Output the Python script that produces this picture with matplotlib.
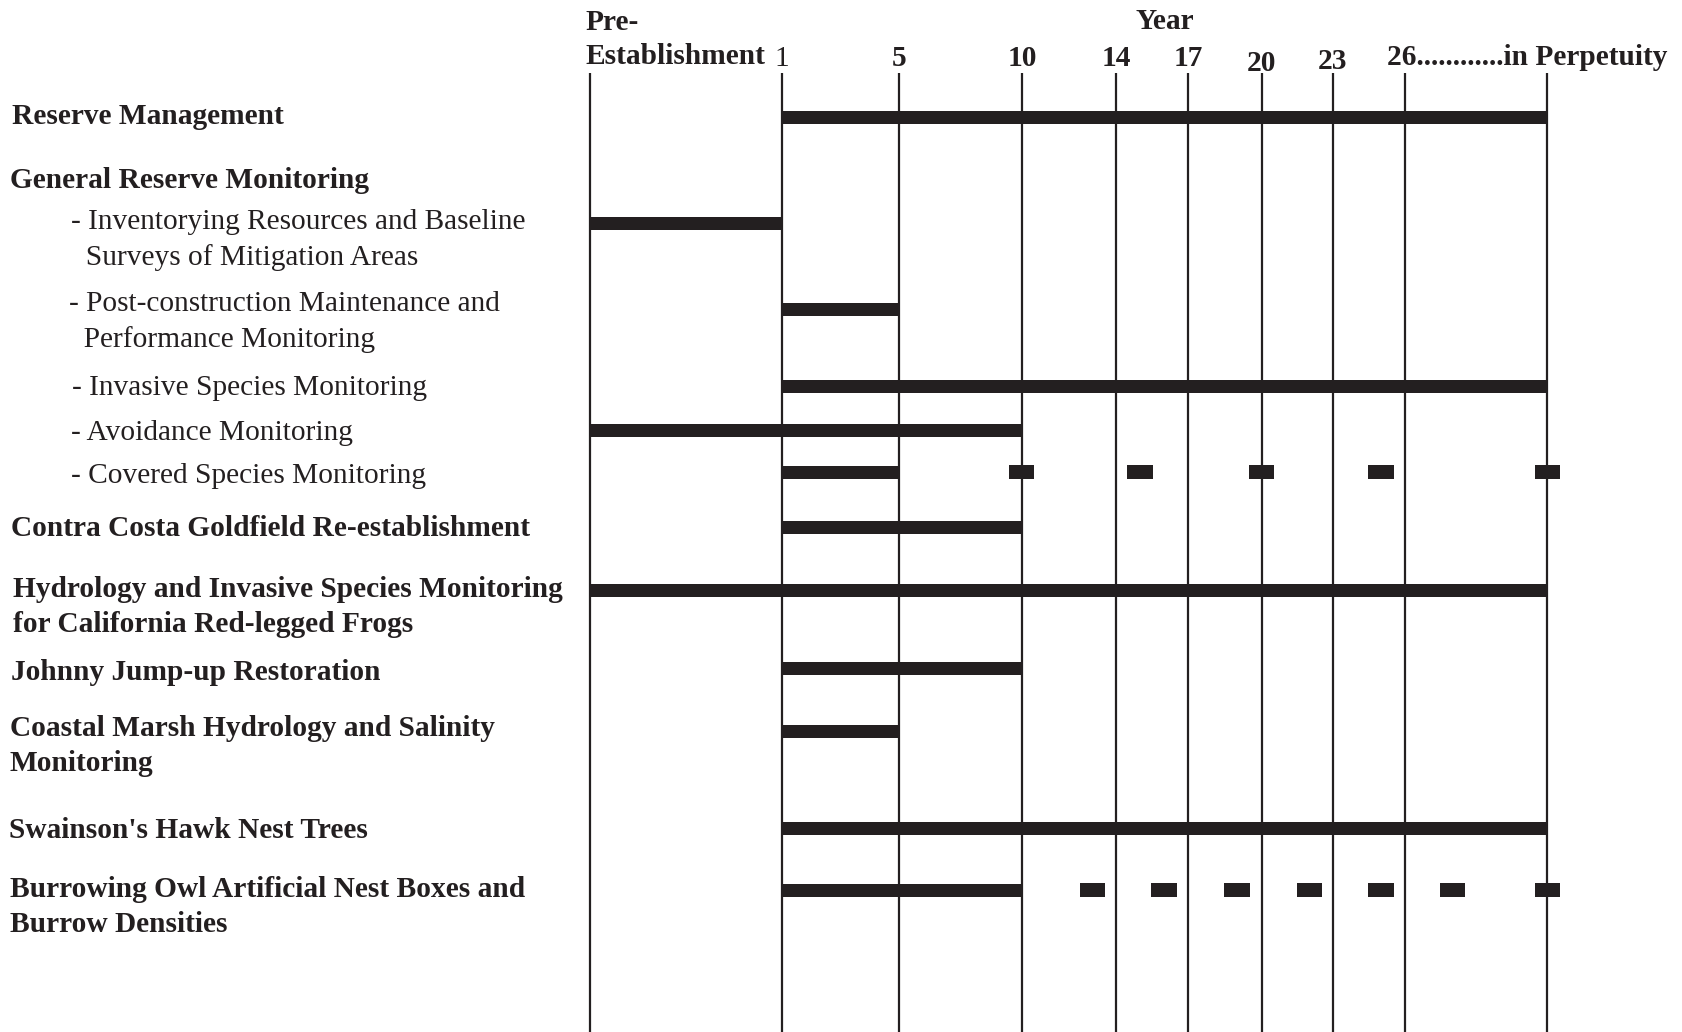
import numpy as np
import matplotlib.pyplot as plt

plt.rcParams['font.family'] = ['Liberation Serif', 'DejaVu Serif']

# stand-in years for the two open-ended columns
PRE, PERP = -7, 32

# ---- data ----
grid_years = [PRE, 1, 5, 10, 14, 17, 20, 23, 26, PERP]
tick_years = [1, 5, 10, 14, 17, 20, 23]
tick_labels = ["1", "5", "10", "14", "17", "20", "23"]

tasks = [
    "Reserve Management",
    "General Reserve Monitoring",
    "- Inventorying Resources and Baseline\n  Surveys of Mitigation Areas",
    "- Post-construction Maintenance and\n  Performance Monitoring",
    "- Invasive Species Monitoring",
    "- Avoidance Monitoring",
    "- Covered Species Monitoring",
    "Contra Costa Goldfield Re-establishment",
    "Hydrology and Invasive Species Monitoring\nfor California Red-legged Frogs",
    "Johnny Jump-up Restoration",
    "Coastal Marsh Hydrology and Salinity\nMonitoring",
    "Swainson's Hawk Nest Trees",
    "Burrowing Owl Artificial Nest Boxes and\nBurrow Densities",
]
is_heading = [True, True, False, False, False, False, False,
              True, True, True, True, True, True]
bar_start = [1, None, PRE, 1, 1, PRE, 1, 1, PRE, 1, 1, 1, 1]
bar_end = [PERP, None, 1, 5, PERP, 10, 5, 10, PERP, 10, 5, PERP, 10]

covered_dashes = [10, 15, 20, 25, PERP]
owl_dashes = [13, 16, 19, 22, 25, 28, PERP]

# ---- layout (figure pixels) ----
W, H = 1682, 1032
col_px = [590, 782, 899, 1022, 1116, 1188, 1262, 1333, 1405, 1547]
row_y = [117, None, 223, 309, 386, 430, 472, 527, 590, 668, 731, 828, 890]
label_y = [117, 180, 240, 322, 388, 433, 476, 529, 607, 672, 746, 830, 907]
label_x = [12, 10, 71, 69, 72, 71, 71, 11, 13, 11, 10, 9, 10]

ink = "#231f20"
fs = 21.2
bar_h = 13
dash_w = 1.05
px_per_year = 24.0

xs = [PRE - col_px[0] / px_per_year] + grid_years + \
     [PERP + (W - col_px[-1]) / px_per_year]
ps = [0] + col_px + [W]


def fwd(x):
    return np.interp(x, xs, ps)


def inv(p):
    return np.interp(p, ps, xs)


fig = plt.figure(figsize=(W / 100, H / 100), dpi=100)

# text layer in pixel coords
lab = fig.add_axes([0, 0, 1, 1])
lab.set_xlim(0, W)
lab.set_ylim(H, 0)
lab.axis("off")

for i, t in enumerate(tasks):
    lab.text(label_x[i], label_y[i], t, ha="left", va="center",
             fontsize=fs, color=ink, linespacing=1.4,
             fontweight="bold" if is_heading[i] else "normal")

# chart layer, x in years
ax = fig.add_axes([0, 0, 1, 1])
ax.patch.set_alpha(0)
ax.set_xscale("function", functions=(fwd, inv))
ax.set_xlim(xs[0], xs[-1])
ax.set_ylim(H, 0)
ax.axis("off")

ax.vlines(grid_years, 73, H, color=ink, lw=1.6)

for i in range(len(tasks)):
    if bar_start[i] is None:
        continue
    ax.barh(row_y[i], bar_end[i] - bar_start[i], left=bar_start[i],
            height=bar_h, color=ink, zorder=3)

for row, d in [(6, covered_dashes), (12, owl_dashes)]:
    d = np.array(d, dtype=float)
    ax.barh([row_y[row]] * len(d), dash_w, left=d - dash_w / 2,
            height=bar_h + 1, color=ink, zorder=3)

# column headings
ax.text(PRE - 0.17, 30, "Pre-", ha="left", va="baseline", fontsize=fs,
        fontweight="bold", color=ink)
ax.text(PRE - 0.17, 64, "Establishment", ha="left", va="baseline",
        fontsize=fs, fontweight="bold", color=ink)
for yr, lbl in zip(tick_years, tick_labels):
    base = 66
    if lbl == "20":
        base = 71
    elif lbl == "23":
        base = 69
    ax.text(yr, base, lbl, ha="center", va="baseline", fontsize=fs,
            fontweight="bold" if lbl != "1" else "normal", color=ink)
ax.text(25.25, 65, "26............in Perpetuity", ha="left", va="baseline",
        fontsize=fs, fontweight="bold", color=ink)
lab.text(1165, 29, "Year", ha="center", va="baseline", fontsize=fs,
         fontweight="bold", color=ink)

fig.savefig("out.png", dpi=100)
